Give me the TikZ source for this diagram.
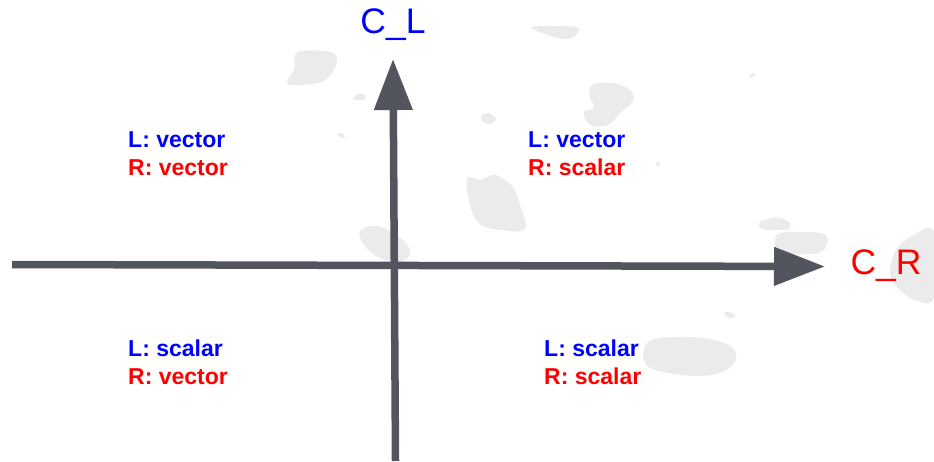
\documentclass[tikz,border=0pt]{standalone}
\usepackage{fontspec}
\setmainfont{Liberation Sans}
\usetikzlibrary{arrows.meta}
\definecolor{axisgrey}{HTML}{52555D}
\definecolor{blobgrey}{HTML}{EBEBEB}
\definecolor{lblue}{HTML}{0000FF}
\definecolor{rred}{HTML}{FF0000}
\tikzset{
  axis/.style={draw=axisgrey, line width=7.5pt, -{Triangle[length=51pt,width=37pt]}},
  blob/.style={fill=blobgrey},
  quad/.style={anchor=base west, inner sep=0pt, align=left, font=\fontsize{23}{27.5}\selectfont\bfseries},
  axlabel/.style={anchor=base, inner sep=0pt, font=\fontsize{35.5}{40}\selectfont},
}
\begin{document}
\begin{tikzpicture}[x=1pt,y=-1pt]
\useasboundingbox (0,0) rectangle (934,462);
\fill[white] (0,0) rectangle (934,462);
% background smudges
\fill[blob] plot[smooth cycle, tension=0.6] coordinates {(298,52) (330,52) (337,60) (331,74) (318,83) (288,84) (294,70)};
\fill[blob] plot[smooth cycle] coordinates {(353,99) (358,94) (365,95) (364,100)};
\fill[blob] plot[smooth cycle] coordinates {(337,134) (342,133) (345,138) (340,137)};
\fill[blob] plot[smooth cycle, tension=0.6] coordinates {(532,27) (576,27) (575,36) (565,39) (548,35)};
\fill[blob] plot[smooth cycle] coordinates {(749,76) (753,73) (756,74) (752,77)};
\fill[blob] plot[smooth cycle, tension=0.6] coordinates {(592,85) (612,83) (630,90) (633,101) (620,113) (608,125) (590,125) (584,112) (594,108) (590,97)};
\fill[blob] plot[smooth cycle] coordinates {(481,116) (488,113) (496,119) (490,124) (482,121)};
\fill[blob] plot[smooth cycle] coordinates {(657,162) (660,163) (659,166) (656,165)};
\fill[blob] plot[smooth cycle, tension=0.6] coordinates {(467,178) (480,180) (495,175) (512,186) (520,205) (525,229) (500,230) (480,224) (470,205)};
\fill[blob] plot[smooth cycle, tension=0.6] coordinates {(760,222) (775,218) (788,221) (789,229) (776,230) (762,229)};
\fill[blob] plot[smooth cycle, tension=0.6] coordinates {(778,234) (800,232) (824,234) (827,244) (818,253) (790,254) (776,248)};
\fill[blob] plot[smooth cycle, tension=0.6] coordinates {(934,232) (912,236) (896,250) (890,270) (895,285) (915,300) (934,297)};
\fill[blob] plot[smooth cycle, tension=0.6] coordinates {(360,231) (378,226) (403,240) (410,253) (400,262) (380,258) (364,245)};
\fill[blob] plot[smooth cycle, tension=0.6] coordinates {(650,341) (675,337) (710,339) (733,348) (735,362) (722,372) (700,376) (675,374) (650,368) (643,355)};
\fill[blob] plot[smooth cycle] coordinates {(724,313) (730,312) (735,316) (729,318)};
% axes
\coordinate (hstart) at (12,264.5);
\coordinate (hend) at (825,266.5);
\coordinate (vstart) at (395.5,461);
\coordinate (vend) at (393,59);
\draw[axis] (hstart) -- (hend);
\draw[axis] (vstart) -- (vend);
% axis labels
\node[axlabel, text=lblue] (cl) at (393,33.5) {C\_L};
\node[axlabel, text=rred] (cr) at (886,275) {C\_R};
% quadrant labels (anchored at the baseline of the second line)
\node[quad] (tl) at (128,175.5) {\textcolor{lblue}{L: vector}\\\textcolor{rred}{R: vector}};
\node[quad] (tr) at (528,175.5) {\textcolor{lblue}{L: vector}\\\textcolor{rred}{R: scalar}};
\node[quad] (bl) at (128,384) {\textcolor{lblue}{L: scalar}\\\textcolor{rred}{R: vector}};
\node[quad] (br) at (544,384) {\textcolor{lblue}{L: scalar}\\\textcolor{rred}{R: scalar}};
\end{tikzpicture}
\end{document}
